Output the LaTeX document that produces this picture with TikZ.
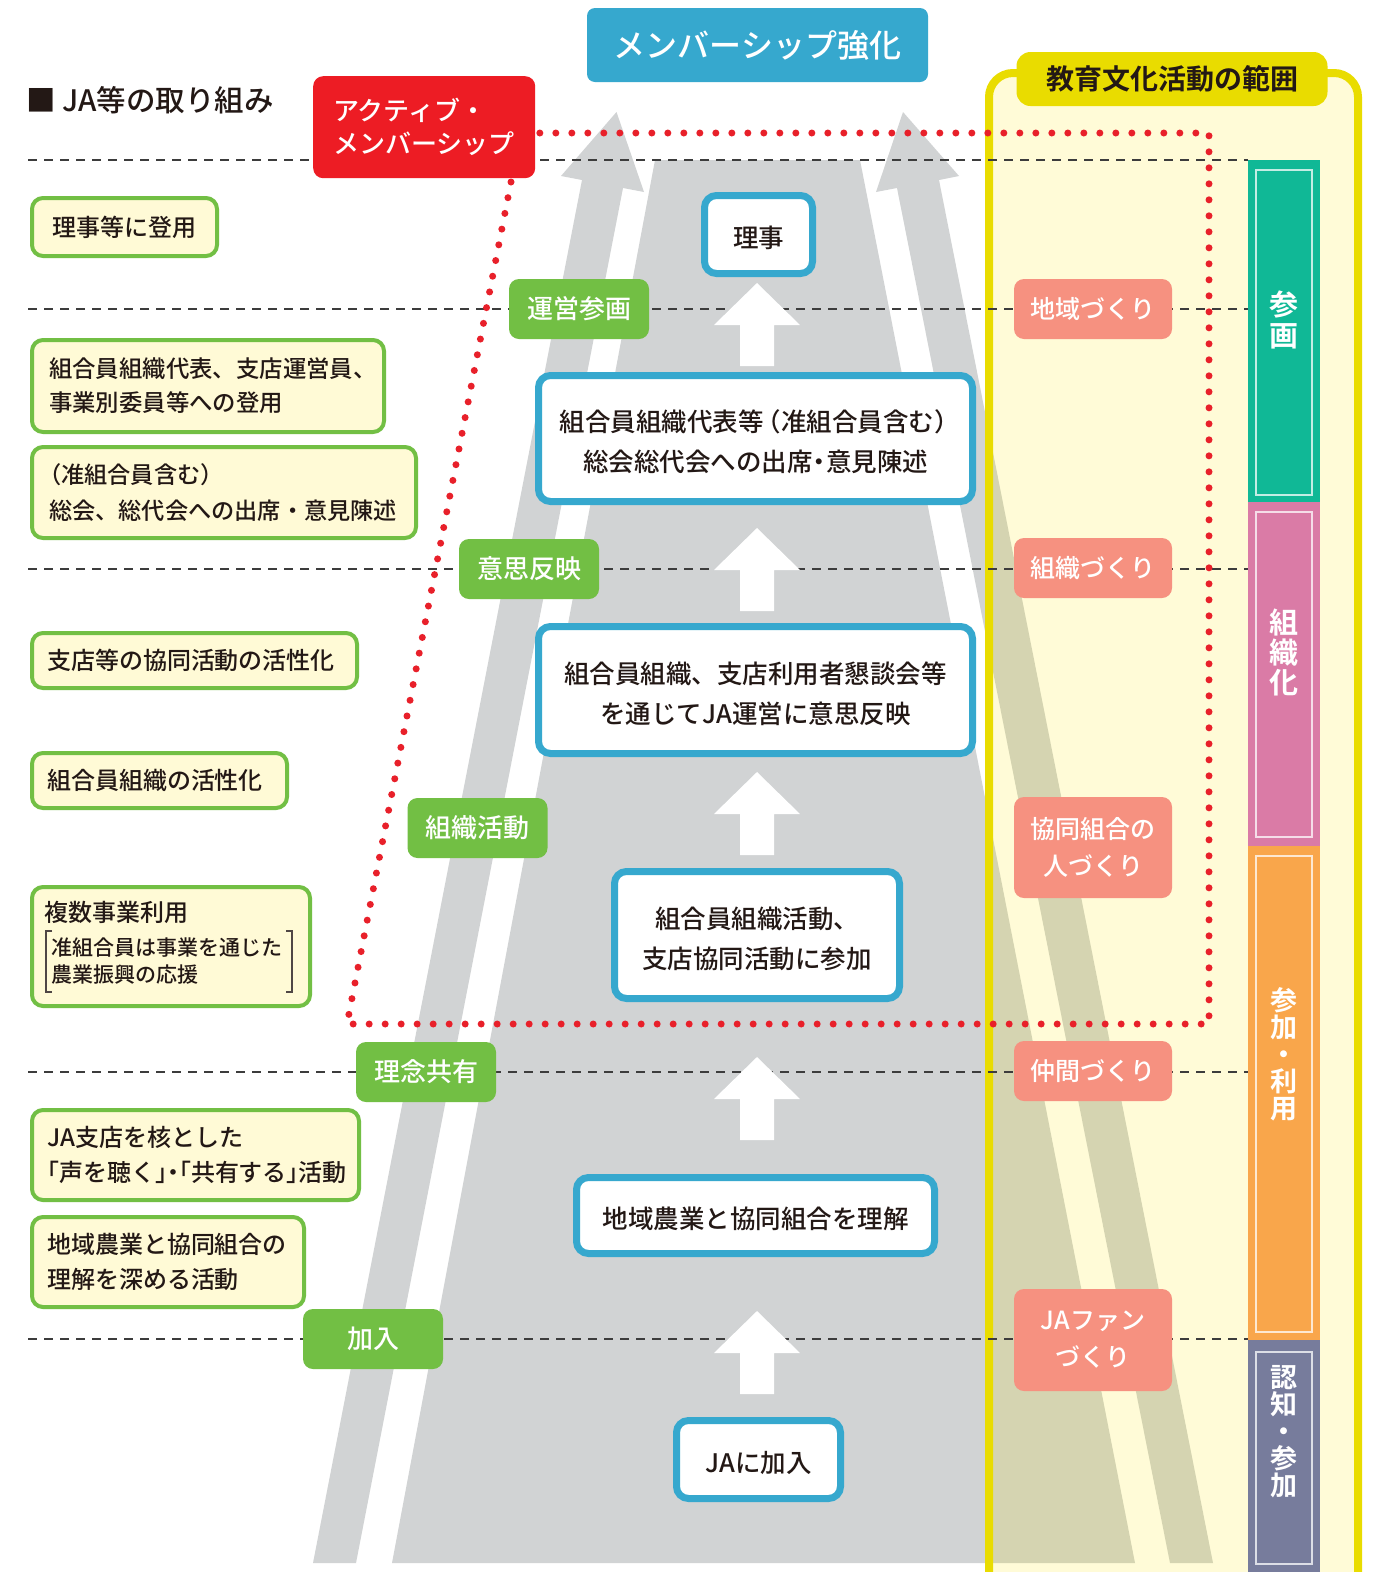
\documentclass[tikz,border=0pt]{standalone}
\usepackage{fontspec}
\setmainfont{Noto Sans CJK JP}[UprightFont={* Medium},BoldFont={* Bold}]
\newcommand\fsz[2]{\fontsize{#1}{#2}\selectfont}
\newcommand\kk[1]{\leavevmode\kern#1}
\newcommand\lowerfix{\rule{0pt}{29pt}}
\definecolor{ttl}{HTML}{36A8CE}
\definecolor{redbox}{HTML}{ED1C24}
\definecolor{dotred}{HTML}{E8202A}
\definecolor{grn}{HTML}{72BF44}
\definecolor{cream}{HTML}{FFFAD6}
\definecolor{salmon}{HTML}{F69180}
\definecolor{yfill}{HTML}{FFFBD7}
\definecolor{yborder}{HTML}{E9DC00}
\definecolor{teal}{HTML}{10B896}
\definecolor{pinkb}{HTML}{DA7BA6}
\definecolor{orangeb}{HTML}{F9A64B}
\definecolor{slate}{HTML}{777C9C}
\definecolor{roadgray}{HTML}{D1D3D4}
\definecolor{olive}{HTML}{D5D4B1}
\definecolor{txt}{HTML}{231815}
\definecolor{dashc}{HTML}{3C3C3C}
\tikzset{
  leftbox/.style={draw=grn, line width=4pt, fill=cream, rounded corners=11pt,
    anchor=north west, align=left, inner xsep=15pt, inner ysep=0pt, text=txt,
    font=\fsz{24}{35}},
  centerbox/.style={draw=ttl, line width=7pt, fill=white, rounded corners=12pt,
    align=center, text=txt, inner sep=0pt, font=\fsz{25.5}{40}},
  glabel/.style={fill=grn, rounded corners=10pt, text=white, inner sep=0pt,
    minimum width=140pt, minimum height=60pt, font=\fsz{26}{30}},
  slabel/.style={fill=salmon, rounded corners=10pt, text=white, inner sep=0pt,
    minimum width=158pt, align=center, font=\fsz{25}{37}},
  barinner/.style={draw=white, draw opacity=0.75, line width=1.5pt},
  vtext/.style={text=white, inner sep=0pt, align=center, font=\bfseries\fsz{27}{27}},
  dashline/.style={draw=dashc, line width=1.2pt, dash pattern=on 9pt off 7pt},
  dotline/.style={draw=dotred, line width=7pt, line cap=round, dash pattern=on 0pt off 16pt},
  blockarrow/.style={fill=white},
  bracketline/.style={draw=txt!80, line width=1.2pt},
}
\newcommand\roadfill[1]{%
  \fill[#1] (655,160) -- (860,160) -- (1135,1563) -- (392,1563) -- cycle;
  \fill[#1] (313,1563) -- (582,180) -- (561,176) -- (616.5,112) -- (644,192) -- (623,188) -- (356,1563) -- cycle;
  \fill[#1] (1213,1563) -- (939,180) -- (959,176) -- (903,112) -- (876,192) -- (897,188) -- (1170,1563) -- cycle;}
\begin{document}
\begin{tikzpicture}[x=1pt,y=-1pt]
\useasboundingbox (0,0) rectangle (1375,1572);
\fill[white] (0,0) rectangle (1375,1572);

% education & culture area
\fill[yfill, rounded corners=24pt] (989,1620) -- (989,73) -- (1358,73) -- (1358,1620) -- cycle;

% road
\begin{scope}
  \clip (0,0) rectangle (989,1572);
  \roadfill{roadgray}
\end{scope}
\begin{scope}
  \clip (989,0) rectangle (1358,1572);
  \roadfill{olive}
\end{scope}

\draw[yborder, line width=8pt, rounded corners=24pt] (989,1620) -- (989,73) -- (1358,73) -- (1358,1620);

% stage bar
\fill[teal] (1248,160) rectangle (1320,502);
\fill[pinkb] (1248,502) rectangle (1320,846);
\fill[orangeb] (1248,846) rectangle (1320,1340);
\fill[slate] (1248,1340) rectangle (1320,1572);
\draw[barinner] (1256,170) rectangle (1312,495);
\draw[barinner] (1256,512) rectangle (1312,837);
\draw[barinner] (1256,856) rectangle (1312,1332);
\draw[barinner] (1256,1352) rectangle (1312,1564);
\node[vtext, font=\bfseries\fsz{29}{31}] (v1) at (1284,320) {参\\画};
\node[vtext, font=\bfseries\fsz{29}{30}] (v2) at (1284,652) {組\\織\\化};
\node[vtext] (v3) at (1284,1054) {参\\加\\・\\利\\用};
\node[vtext] (v4) at (1284,1432) {認\\知\\・\\参\\加};

% dashed level lines
\foreach \yy in {160,309,569,1072,1339}
  \draw[dashline] (28,\yy) -- (1248,\yy);

% headings
\node[fill=ttl, rounded corners=8pt, minimum width=341pt, minimum height=74pt,
  inner sep=0pt, text=white, font=\fsz{32}{36}] (title) at (757.5,45) {メンバーシップ強化};
\node[anchor=west, inner sep=0pt, text=txt, font=\fsz{29.5}{32}] (heading) at (26,100) {■ JA等の取り組み};
\node[fill=yborder, rounded corners=14pt, minimum width=311pt, minimum height=54pt,
  inner sep=0pt, text=txt, font=\bfseries\fsz{28}{30}] (tab) at (1172,79) {教育文化活動の範囲};
\node[fill=redbox, rounded corners=10pt, anchor=north west, minimum height=102pt,
  text width=182pt, inner xsep=20pt, inner ysep=0pt, align=left, text=white,
  font=\fsz{26}{33}] (active) at (313,76) {アクティブ・\\メンバーシップ};

% left column
\node[leftbox, align=center, text width=155pt, minimum height=58pt] (l1) at (30,196) {理事等に登用};
\node[leftbox, inner xsep=17pt, text width=318pt, minimum height=92pt, font=\fsz{23.4}{34}] (l2) at (30,338)
  {組合員組織代表、支店運営員、\\事業別委員等への登用};
\node[leftbox, inner xsep=17pt, text width=350pt, minimum height=91pt, font=\fsz{23.2}{36}] (l3) at (30,445)
  {\kk{-11pt}（准組合員含む）\\総会、総代会への出席・意見陳述};
\node[leftbox, text width=295pt, minimum height=55pt] (l4) at (30,631) {支店等の協同活動の活性化};
\node[leftbox, text width=225pt, minimum height=55pt] (l5) at (30,751) {組合員組織の活性化};
\node[leftbox, text width=248pt, minimum height=119pt] (l6) at (30,885) {};
\node[anchor=west, inner sep=0pt, text=txt, font=\fsz{24}{28}] (l6a) at (44,912) {複数事業利用};
\node[anchor=west, inner sep=0pt, text=txt, align=left, font=\fsz{21}{27}] (l6b) at (51,961)
  {准組合員は事業を通じた\\農業振興の応援};
\draw[bracketline] (52,931) -- (46,931) -- (46,992) -- (52,992);
\draw[bracketline] (286,931) -- (292,931) -- (292,992) -- (286,992);
\node[leftbox, text width=297pt, minimum height=90pt] (l7) at (30,1108)
  {JA支店を核とした\\\kk{-12pt}「声を聴く」\kern-18pt・\kern-18pt「共有する」\kern-12pt活動};
\node[leftbox, text width=242pt, minimum height=90pt] (l8) at (30,1215)
  {地域農業と協同組合の\\理解を深める活動};

% road steps
\node[centerbox, minimum width=108pt, minimum height=78pt] (c1) at (758.5,234.5) {\lowerfix 理事};
\node[centerbox, minimum width=434pt, minimum height=126pt] (c2) at (755.5,438.5)
  {\lowerfix 組合員組織代表等\kern-8pt（准組合員含む）\kern-8pt\\総会総代会への出席\kern-6pt・\kern-6pt意見陳述};
\node[centerbox, minimum width=434pt, minimum height=127pt] (c3) at (755.5,690)
  {\lowerfix 組合員組織、支店利用者懇談会等\\を通じてJA運営に意思反映};
\node[centerbox, minimum width=285pt, minimum height=127pt] (c4) at (757,935)
  {\lowerfix 組合員組織活動、\\支店協同活動に参加};
\node[centerbox, minimum width=358pt, minimum height=76pt] (c5) at (755.5,1215.5) {\lowerfix 地域農業と協同組合を理解};
\node[centerbox, minimum width=164pt, minimum height=78pt] (c6) at (758.5,1459.5) {\lowerfix JAに加入};

\foreach \t in {283,528,772,1057,1311}
  \fill[blockarrow] (757,\t) -- (800,\t+42) -- (774,\t+42) -- (774,\t+83)
     -- (740,\t+83) -- (740,\t+42) -- (714,\t+42) -- cycle;

% green stage labels
\node[glabel] (g1) at (579,309) {運営参画};
\node[glabel] (g2) at (529,569) {意思反映};
\node[glabel] (g3) at (477.5,828) {組織活動};
\node[glabel] (g4) at (426,1072) {理念共有};
\node[glabel] (g5) at (373,1339) {加入};

% salmon labels
\node[slabel, minimum height=60pt] (s1) at (1093,309) {地域づくり};
\node[slabel, minimum height=60pt] (s2) at (1093,568) {組織づくり};
\node[slabel, minimum height=101pt] (s3) at (1093,847.5) {協同組合の\\人づくり};
\node[slabel, minimum height=60pt] (s4) at (1093,1071) {仲間づくり};
\node[slabel, minimum height=102pt] (s5) at (1093,1340) {JAファン\\づくり};

% active membership range
\coordinate (d0) at (511,182);
\coordinate (d1) at (347,1024);
\coordinate (d2) at (1209,1024);
\coordinate (d3) at (1209,133);
\coordinate (d4) at (537,133);
\draw[dotline] (d0) -- (d1) -- (d2) -- (d3) -- (d4);
\end{tikzpicture}
\end{document}
